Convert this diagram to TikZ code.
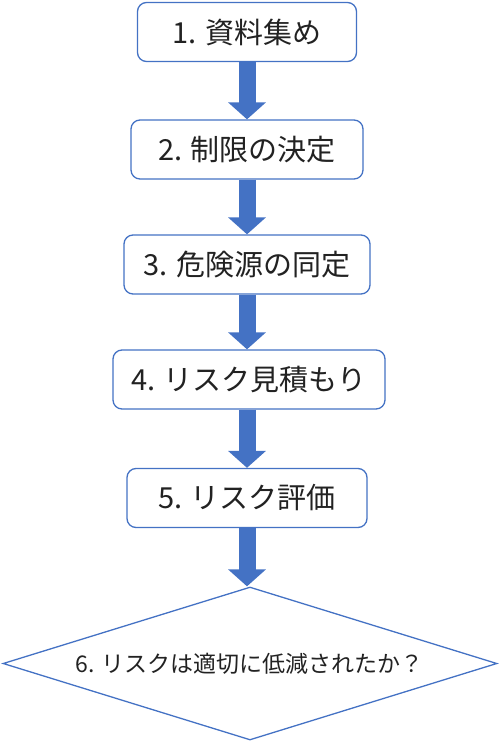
\documentclass[tikz,border=0pt]{standalone}
\usepackage{fontspec}
\setmainfont{Noto Sans CJK JP}
\usetikzlibrary{shapes.geometric, arrows.meta}
\definecolor{OffBlue}{HTML}{4472C4}
\definecolor{TxtGray}{HTML}{222222}

\begin{document}
\begin{tikzpicture}[x=1pt, y=-1pt,
    stepbox/.style={rectangle, rounded corners=9pt, draw=OffBlue, line width=1.3pt,
                    fill=white, minimum height=59pt, text=TxtGray,
                    font=\fontsize{29}{32}\selectfont},
    decision/.style={diamond, aspect=3.2, draw=OffBlue, line width=1.3pt,
                     minimum width=494pt, minimum height=153pt, inner sep=0pt,
                     text=TxtGray, font=\fontsize{23}{26}\selectfont},
    blk/.style={line width=17pt, draw=OffBlue,
                -{Triangle[length=17pt, width=37pt]}}
  ]
  \useasboundingbox (0,0) rectangle (500,742);

  \node[stepbox, minimum width=219pt] (s1) at (247, 32)    {1. 資料集め};
  \node[stepbox, minimum width=232pt] (s2) at (247, 149.5) {2. 制限の決定};
  \node[stepbox, minimum width=246pt] (s3) at (247, 264.5) {3. 危険源の同定};
  \node[stepbox, minimum width=272pt] (s4) at (249, 379.5) {4. リスク見積もり};
  \node[stepbox, minimum width=240pt] (s5) at (247, 498)   {5. リスク評価};

  \node[decision] (d6) at (250, 663.5) {6. リスクは適切に低減されたか？};

  % block arrows between steps
  \foreach \a/\b in {s1/s2, s2/s3, s3/s4, s4/s5, s5/d6}{
    \draw[blk] (s1.south |- \a.south) -- (s1.south |- \b.north);
  }
\end{tikzpicture}
\end{document}
